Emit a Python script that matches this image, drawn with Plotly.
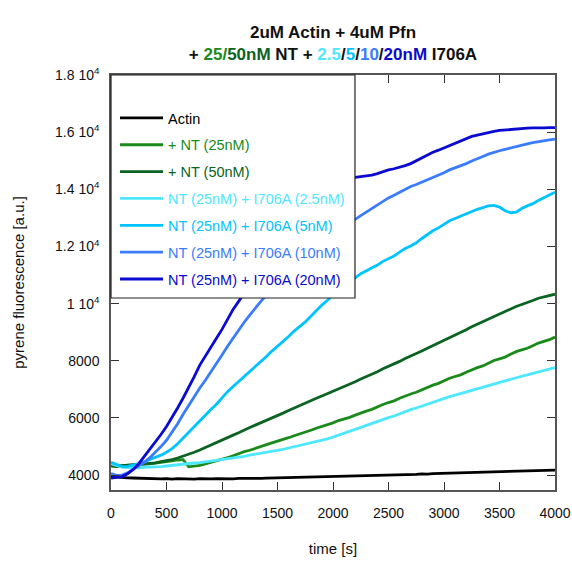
import plotly.graph_objects as go

# sampling times [s]
time_s = [0, 50, 100, 150, 200, 250, 300, 350, 400, 450, 500, 550, 600, 650, 700,
          750, 800, 850, 900, 950, 1000, 1050, 1100, 1150, 1200, 1250, 1300, 1350,
          1400, 1450, 1500, 1550, 1600, 1650, 1700, 1750, 1800, 1850, 1900, 1950,
          2000, 2050, 2100, 2150, 2200, 2250, 2300, 2350, 2400, 2450, 2500, 2550,
          2600, 2650, 2700, 2750, 2800, 2850, 2900, 2950, 3000, 3050, 3100, 3150,
          3200, 3250, 3300, 3350, 3400, 3450, 3500, 3550, 3600, 3650, 3700, 3750,
          3800, 3850, 3900, 3950, 4000]

actin = [3950, 3930, 3915, 3905, 3900, 3890, 3895, 3880, 3885, 3870, 3875, 3860,
         3880, 3865, 3875, 3860, 3880, 3865, 3870, 3880, 3875, 3885, 3870, 3890,
         3885, 3895, 3900, 3885, 3895, 3900, 3890, 3910, 3905, 3915, 3920, 3910,
         3930, 3935, 3930, 3945, 3950, 3940, 3955, 3950, 3965, 3960, 3975, 3970,
         3985, 3980, 4000, 3990, 4015, 4005, 4025, 4030, 4045, 4035, 4055, 4060,
         4075, 4065, 4085, 4080, 4095, 4090, 4105, 4110, 4115, 4105, 4125, 4130,
         4135, 4130, 4145, 4140, 4155, 4150, 4165, 4160, 4175]

nt_25 = [4320, 4300, 4330, 4340, 4350, 4360, 4385, 4395, 4420, 4440, 4470, 4500,
         4530, 4540, 4290, 4310, 4340, 4390, 4440, 4490, 4560, 4610, 4680, 4760,
         4820, 4870, 4940, 5010, 5060, 5130, 5190, 5240, 5310, 5380, 5440, 5490,
         5570, 5640, 5700, 5750, 5830, 5910, 5960, 6020, 6100, 6180, 6240, 6300,
         6390, 6470, 6540, 6600, 6690, 6770, 6840, 6900, 6990, 7080, 7150, 7210,
         7300, 7390, 7450, 7510, 7600, 7690, 7760, 7820, 7920, 8010, 8070, 8130,
         8230, 8320, 8380, 8440, 8530, 8620, 8680, 8740, 8830]

nt_50 = [4330, 4310, 4330, 4345, 4350, 4370, 4380, 4410, 4430, 4470, 4500, 4545,
         4600, 4660, 4730, 4800, 4880, 4970, 5050, 5130, 5220, 5320, 5400, 5480,
         5580, 5670, 5750, 5830, 5920, 6010, 6090, 6170, 6260, 6350, 6430, 6510,
         6600, 6690, 6770, 6850, 6940, 7030, 7100, 7180, 7270, 7360, 7440, 7520,
         7620, 7720, 7800, 7880, 7980, 8080, 8160, 8240, 8340, 8440, 8530, 8620,
         8720, 8820, 8900, 8980, 9090, 9190, 9280, 9360, 9460, 9560, 9640, 9720,
         9810, 9900, 9970, 10030, 10110, 10190, 10230, 10270, 10330]

i706a_2p5 = [4400, 4330, 4280, 4260, 4250, 4255, 4270, 4275, 4290, 4300, 4320,
             4345, 4360, 4380, 4400, 4425, 4440, 4465, 4490, 4510, 4540, 4575,
             4600, 4625, 4660, 4700, 4730, 4760, 4800, 4840, 4870, 4905, 4950,
             4995, 5030, 5070, 5120, 5175, 5220, 5270, 5330, 5400, 5460, 5525,
             5600, 5675, 5740, 5805, 5880, 5950, 6010, 6070, 6150, 6225, 6290,
             6350, 6420, 6490, 6550, 6610, 6680, 6745, 6800, 6855, 6920, 6985,
             7040, 7090, 7150, 7210, 7260, 7305, 7360, 7415, 7460, 7505, 7560,
             7615, 7660, 7700, 7760]

i706a_5 = [4450, 4380, 4300, 4310, 4350, 4400, 4470, 4540, 4620, 4700, 4800, 4930,
           5100, 5300, 5500, 5700, 5900, 6120, 6300, 6480, 6700, 6920, 7100, 7270,
           7450, 7640, 7800, 7960, 8150, 8340, 8500, 8660, 8850, 9040, 9200, 9360,
           9560, 9770, 9950, 10120, 10300, 10480, 10620, 10750, 10900, 11050,
           11150, 11240, 11350, 11480, 11580, 11670, 11800, 11930, 12020, 12130,
           12280, 12430, 12550, 12650, 12780, 12900, 12980, 13060, 13150, 13240,
           13300, 13360, 13420, 13440, 13380, 13250, 13180, 13200, 13330, 13420,
           13500, 13610, 13700, 13790, 13900]

i706a_10 = [4050, 3990, 4000, 4080, 4200, 4320, 4450, 4610, 4800, 5000, 5220, 5490,
            5800, 6130, 6450, 6760, 7050, 7320, 7600, 7900, 8200, 8510, 8800, 9070,
            9350, 9600, 9850, 10080, 10300, 10560, 10800, 11000, 11200, 11380,
            11550, 11720, 11900, 12060, 12200, 12320, 12450, 12580, 12700, 12820,
            12950, 13080, 13200, 13320, 13450, 13590, 13700, 13790, 13900, 14010,
            14100, 14170, 14250, 14340, 14400, 14480, 14580, 14680, 14750, 14810,
            14900, 14990, 15080, 15150, 15230, 15300, 15350, 15400, 15450, 15510,
            15560, 15590, 15630, 15670, 15700, 15730, 15760]

i706a_20 = [3900, 3920, 3950, 4050, 4200, 4400, 4650, 4890, 5150, 5420, 5700, 6010,
            6350, 6700, 7050, 7450, 7850, 8180, 8500, 8790, 9100, 9460, 9800, 10080,
            10350, 10650, 10950, 11250, 11550, 11830, 12100, 12350, 12600, 12830,
            13050, 13250, 13450, 13630, 13800, 13950, 14100, 14210, 14300, 14370,
            14420, 14440, 14480, 14500, 14550, 14620, 14680, 14720, 14770, 14830,
            14900, 15000, 15100, 15210, 15300, 15370, 15450, 15540, 15620, 15700,
            15780, 15850, 15900, 15950, 15990, 16030, 16060, 16080, 16100, 16120,
            16130, 16140, 16150, 16140, 16150, 16160, 16160]

series_names = ["Actin", "+ NT (25nM)", "+ NT (50nM)", "NT (25nM) + I706A (2.5nM)",
                "NT (25nM) + I706A (5nM)", "NT (25nM) + I706A (10nM)",
                "NT (25nM) + I706A (20nM)"]
series_values = [actin, nt_25, nt_50, i706a_2p5, i706a_5, i706a_10, i706a_20]
series_colors = ["#000000", "#1a8a1a", "#0b6321", "#4de8ff", "#00c3ff",
                 "#3a7cff", "#0a0ad0"]

y_tickvals = [4000, 6000, 8000, 10000, 12000, 14000, 16000, 18000]
y_ticktext = ["4000", "6000", "8000", "1 10<sup>4</sup>", "1.2 10<sup>4</sup>",
              "1.4 10<sup>4</sup>", "1.6 10<sup>4</sup>", "1.8 10<sup>4</sup>"]
x_tickvals = [0, 500, 1000, 1500, 2000, 2500, 3000, 3500, 4000]

FONT = "Liberation Sans, Arial, sans-serif"

fig = go.Figure()
for i, (name, vals, col) in enumerate(zip(series_names, series_values, series_colors)):
    fig.add_trace(go.Scatter(
        x=time_s, y=vals, mode="lines",
        line=dict(color=col, width=2.8),
        name=f"<span style='color:{col}'>{name}</span>",
        legendgroup=f"g{i}",
    ))

title_text = (
    "<b>2uM Actin + 4uM Pfn<br>+ "
    f"<span style='color:{series_colors[1]}'>25/</span>"
    f"<span style='color:{series_colors[2]}'>50nM</span> NT + "
    f"<span style='color:{series_colors[3]}'>2.5</span>/"
    f"<span style='color:{series_colors[4]}'>5</span>/"
    f"<span style='color:{series_colors[5]}'>10</span>/"
    f"<span style='color:{series_colors[6]}'>20nM</span> I706A</b>"
)

axis_common = dict(
    showline=True, linecolor="#555555", linewidth=1.5, mirror="ticks",
    ticks="inside", ticklen=8, tickwidth=1.2, tickcolor="#333333",
    showgrid=False, zeroline=False, automargin=False,
    tickfont=dict(family=FONT, size=14, color="#111111"),
)

fig.update_layout(
    width=572, height=563,
    margin=dict(l=111, r=17, t=75, b=73),
    paper_bgcolor="white", plot_bgcolor="white",
    font=dict(family=FONT, size=14, color="#111111"),
    title=dict(text=title_text, x=0.5, xref="paper", xanchor="center",
               y=0.932, yref="container", yanchor="top",
               font=dict(family=FONT, size=17, color="#111111")),
    xaxis=dict(range=[0, 4000], tickvals=x_tickvals, ticklabelstandoff=9,
               title=dict(text="time [s]", standoff=24,
                          font=dict(family=FONT, size=15)),
               **axis_common),
    yaxis=dict(range=[3480, 18000], tickvals=y_tickvals, ticktext=y_ticktext,
               ticklabelstandoff=7,
               title=dict(text="pyrene fluorescence [a.u.]", standoff=27,
                          font=dict(family=FONT, size=15)),
               **axis_common),
    showlegend=True,
    legend=dict(x=0.009, y=0.935, xanchor="left", yanchor="top",
                bgcolor="rgba(0,0,0,0)", borderwidth=0,
                traceorder="grouped", tracegroupgap=5, itemwidth=43,
                font=dict(family=FONT, size=14.5)),
    shapes=[dict(type="rect", xref="paper", yref="paper",
                 x0=0, x1=0.5495, y0=0.4627, y1=1,
                 fillcolor="white", line=dict(color="#222222", width=1.2),
                 layer="above")],
)

fig.write_html("out.html")
